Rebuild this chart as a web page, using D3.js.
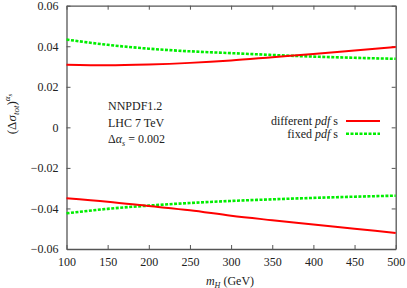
<!DOCTYPE html>
<html>
<head>
<meta charset="utf-8">
<script src="https://cdn.jsdelivr.net/npm/d3@7"></script>
<style>
  body { margin: 0; background: #fff; }
  text { font-family: "Liberation Serif", "DejaVu Serif", serif; fill: #222; }
</style>
</head>
<body>
<div id="chart"></div>
<script>
// Higgs mass points (GeV)
var masses = [100, 150, 200, 250, 300, 350, 400, 450, 500]

// upper and lower edges of the alpha_s band, two pdf treatments
var diffUpper = [0.0309, 0.0306, 0.0310, 0.0318, 0.0330, 0.0346, 0.0362, 0.0379, 0.0396]
var diffLower = [-0.0350, -0.0367, -0.0388, -0.0409, -0.0436, -0.0458, -0.0479, -0.0500, -0.0521]
var fixUpper = [0.0433, 0.0407, 0.0388, 0.0375, 0.0366, 0.0357, 0.0349, 0.0343, 0.0338]
var fixLower = [-0.0424, -0.0402, -0.0386, -0.0373, -0.0363, -0.0355, -0.0348, -0.0342, -0.0337]

var xTicks = [100, 150, 200, 250, 300, 350, 400, 450, 500]
var yTicks = [-0.06, -0.04, -0.02, 0, 0.02, 0.04, 0.06]
var infoLines = ["NNPDF1.2", "LHC 7 TeV"]

var width = 407, height = 288
var margin = {left: 66.5, right: 11.3, top: 5.7, bottom: 39}
var serif = "'Liberation Serif', 'DejaVu Serif', serif"

var svg = d3.select("#chart").append("svg")
    .attr("width", width)
    .attr("height", height)

var x = d3.scaleLinear().domain([100, 500]).range([margin.left, width - margin.right])
var y = d3.scaleLinear().domain([-0.06, 0.06]).range([height - margin.bottom, margin.top])

var fmtY = function (d) { return d == 0 ? "0" : d3.format(".2f")(d) }

// axes, ticks pointing inward; mirrored on top and right
var axes = []
axes.push(svg.append("g")
    .attr("transform", "translate(0," + y(-0.06) + ")")
    .call(d3.axisBottom(x).tickValues(xTicks).tickSizeInner(-4).tickSizeOuter(0).tickPadding(8)))
axes.push(svg.append("g")
    .attr("transform", "translate(0," + y(0.06) + ")")
    .call(d3.axisTop(x).tickValues(xTicks).tickSizeInner(-4).tickSizeOuter(0).tickFormat("")))
axes.push(svg.append("g")
    .attr("transform", "translate(" + x(100) + ",0)")
    .call(d3.axisLeft(y).tickValues(yTicks).tickSizeInner(-4).tickSizeOuter(0).tickPadding(8).tickFormat(fmtY)))
axes.push(svg.append("g")
    .attr("transform", "translate(" + x(500) + ",0)")
    .call(d3.axisRight(y).tickValues(yTicks).tickSizeInner(-4).tickSizeOuter(0).tickFormat("")))

axes.forEach(function (a) {
    a.attr("font-family", serif).attr("font-size", 12)
})
svg.selectAll(".domain").attr("stroke", "#555").attr("stroke-width", 1.3)
svg.selectAll(".tick line").attr("stroke", "#555").attr("stroke-width", 1)
svg.selectAll(".tick text").attr("fill", "#222")

var line = function (vals) {
    return d3.line()
        .x(function (d, i) { return x(masses[i]) })
        .y(function (d) { return y(d) })
        .curve(d3.curveMonotoneX)(vals)
}

var plot = svg.append("g")
;[fixUpper, fixLower].forEach(function (s) {
    plot.append("path").attr("d", line(s))
        .attr("fill", "none").attr("stroke", "#00ee00")
        .attr("stroke-width", 2.6).attr("stroke-dasharray", "3,1.5")
})
;[diffUpper, diffLower].forEach(function (s) {
    plot.append("path").attr("d", line(s))
        .attr("fill", "none").attr("stroke", "#ff0000")
        .attr("stroke-width", 2)
})

// legend
var legend = svg.append("g")
var rows = [
    {name: "different ", col: "#ff0000", dash: null, w: 2},
    {name: "fixed ", col: "#00ee00", dash: "3,1.5", w: 2.6}
]
rows.forEach(function (r, i) {
    var ly = 121 + i * 12.7
    var t = legend.append("text")
        .attr("x", 338).attr("y", ly + 4)
        .attr("text-anchor", "end")
        .style("font-size", "12px")
    t.append("tspan").text(r.name)
    t.append("tspan").style("font-style", "italic").text("pdf")
    t.append("tspan").text(" s")
    legend.append("line")
        .attr("x1", 346).attr("x2", 380)
        .attr("y1", ly).attr("y2", ly)
        .attr("stroke", r.col).attr("stroke-width", r.w)
        .attr("stroke-dasharray", r.dash)
})

// info block
infoLines.forEach(function (s, i) {
    svg.append("text").attr("x", 108).attr("y", 110 + i * 16.5)
        .style("font-size", "12px").text(s)
})
var da = svg.append("text").attr("x", 108).attr("y", 143).style("font-size", "12px")
da.append("tspan").text("Δ")
da.append("tspan").style("font-style", "italic").text("α")
da.append("tspan").attr("dy", 2.5).style("font-size", "8px").style("font-style", "italic").text("s")
da.append("tspan").attr("dy", -2.5).text(" = 0.002")

// x label
var xl = svg.append("text").attr("x", 230).attr("y", 285)
    .attr("text-anchor", "middle").style("font-size", "12px")
xl.append("tspan").style("font-style", "italic").text("m")
xl.append("tspan").attr("dy", 2.5).style("font-size", "8px").style("font-style", "italic").text("H")
xl.append("tspan").attr("dy", -2.5).text("  (GeV)")

// y label
var yl = svg.append("text")
    .attr("transform", "translate(16,114) rotate(-90)")
    .attr("text-anchor", "middle").style("font-size", "13px")
yl.append("tspan").text("(Δ")
yl.append("tspan").style("font-style", "italic").text("σ")
yl.append("tspan").attr("dy", 3).style("font-size", "9px").style("font-style", "italic").text("tot")
yl.append("tspan").attr("dy", -3).text(")")
yl.append("tspan").attr("dy", -6).style("font-size", "9px").style("font-style", "italic").text("α")
yl.append("tspan").attr("dy", 2).style("font-size", "7px").style("font-style", "italic").text("s")
</script>
</body>
</html>
